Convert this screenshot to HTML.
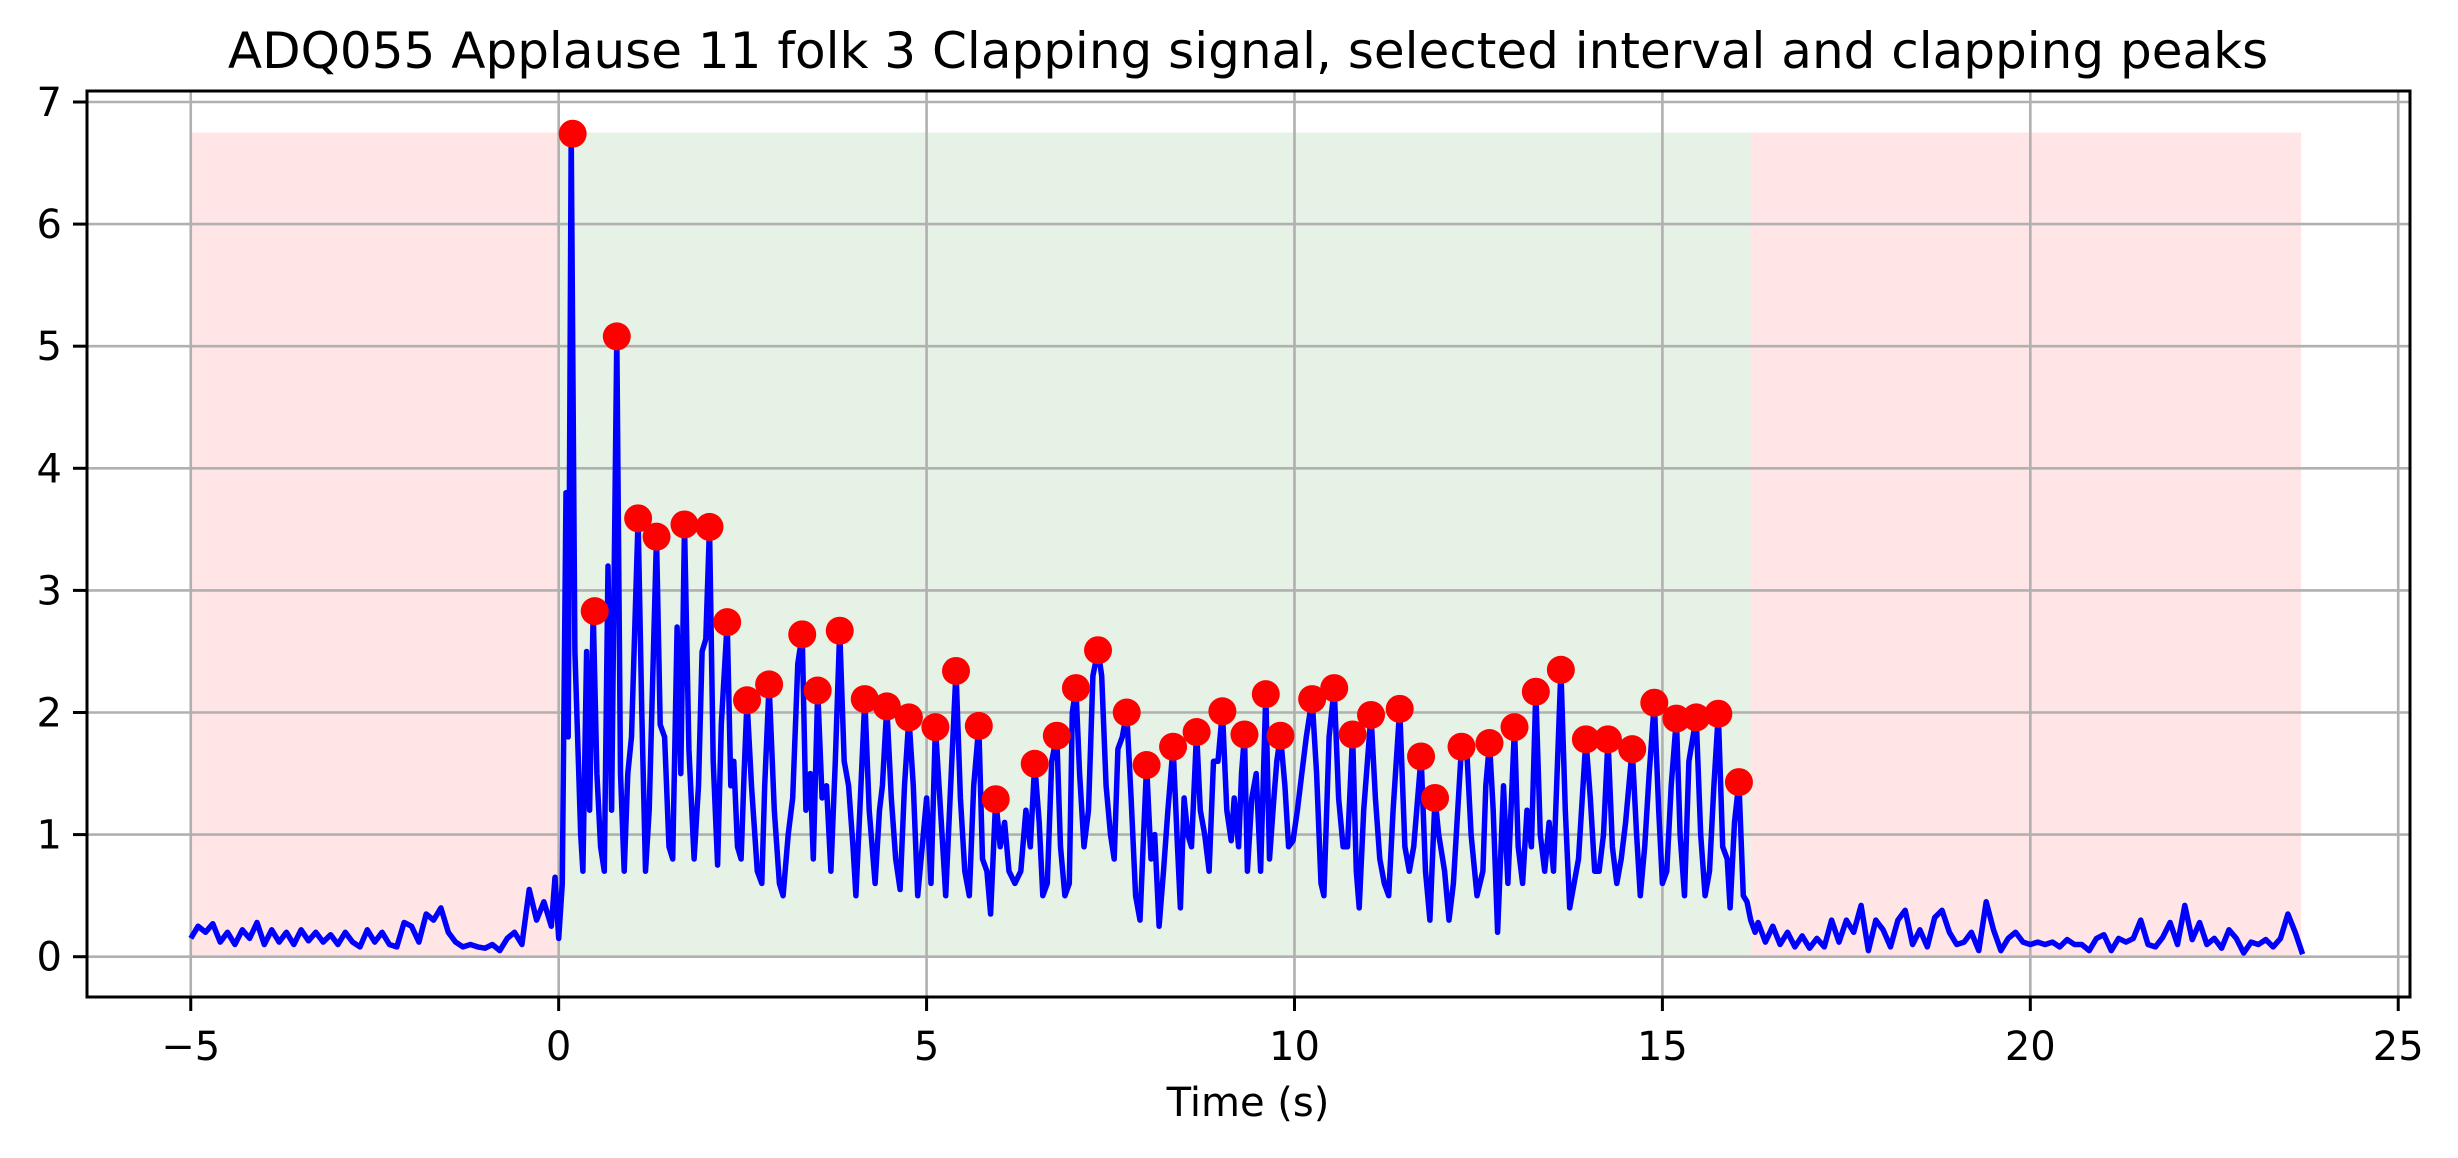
<!DOCTYPE html>
<html><head><meta charset="utf-8"><style>
html,body{margin:0;padding:0;background:#fff;}
svg{display:block;font-family:"DejaVu Sans","Liberation Sans",sans-serif;}
</style></head><body>
<svg id="chart" width="2458" height="1158" viewBox="0 0 2458 1158" xmlns="http://www.w3.org/2000/svg">
<rect width="2458" height="1158" fill="#fff"/>
<g id="spans"></g><g id="grid"></g><g id="series"></g><g id="peaks"></g><g id="axes"></g>
<text x="1248" y="68" font-size="50" text-anchor="middle">ADQ055 Applause 11 folk 3 Clapping signal, selected interval and clapping peaks</text>
<text x="1248" y="1116" font-size="40" text-anchor="middle">Time (s)</text>
</svg>
<script>
const xTicks = [-5, 0, 5, 10, 15, 20, 25];
const yTicks = [0, 1, 2, 3, 4, 5, 6, 7];
const spanStarts = [-5, 0, 16.2];
const spanEnds = [0, 16.2, 23.68];
const spanKinds = ['excluded', 'selected', 'excluded'];
const spanTop = 6.75;
const peakT = [0.19,0.49,0.79,1.08,1.33,1.71,2.05,2.29,2.56,2.86,3.31,3.52,3.82,4.16,4.46,4.76,5.12,5.40,5.71,5.94,6.47,6.77,7.03,7.33,7.72,7.99,8.35,8.67,9.02,9.32,9.61,9.81,10.24,10.54,10.79,11.04,11.43,11.72,11.91,12.27,12.65,12.99,13.28,13.62,13.96,14.26,14.59,14.89,15.19,15.46,15.76,16.04];
const peakV = [6.74,2.83,5.08,3.59,3.44,3.54,3.52,2.74,2.10,2.23,2.64,2.18,2.67,2.11,2.05,1.96,1.88,2.34,1.89,1.29,1.58,1.81,2.20,2.51,2.00,1.57,1.72,1.84,2.01,1.82,2.15,1.81,2.11,2.20,1.82,1.98,2.03,1.64,1.30,1.72,1.75,1.88,2.17,2.35,1.78,1.78,1.70,2.08,1.95,1.96,1.99,1.43];
const preV = [0.15,0.25,0.2,0.27,0.12,0.2,0.1,0.22,0.15,0.28,0.1,0.22,0.12,0.2,0.1,0.22,0.13,0.2,0.12,0.18,0.1,0.2,0.12,0.08,0.22,0.12,0.2,0.1,0.08,0.28,0.25,0.12,0.35,0.3,0.4,0.2,0.12,0.08,0.1,0.08,0.07,0.1,0.05,0.15,0.2,0.1,0.55,0.3,0.45,0.25];
const midT = [-0.05,0,0.05,0.1,0.13,0.17,0.22,0.3,0.33,0.38,0.42,0.47,0.52,0.57,0.62,0.67,0.72,0.79,0.84,0.89,0.94,0.99,1.08,1.13,1.18,1.23,1.33,1.38,1.44,1.5,1.55,1.61,1.66,1.71,1.77,1.84,1.9,1.95,2.0,2.05,2.1,2.16,2.21,2.29,2.34,2.38,2.43,2.48,2.52,2.56,2.62,2.7,2.76,2.8,2.86,2.93,3.0,3.05,3.12,3.18,3.25,3.31,3.36,3.42,3.46,3.52,3.58,3.64,3.7,3.76,3.82,3.88,3.94,4.0,4.04,4.1,4.16,4.22,4.3,4.36,4.4,4.46,4.52,4.58,4.64,4.7,4.76,4.82,4.88,4.94,5.0,5.06,5.12,5.2,5.26,5.32,5.4,5.46,5.52,5.58,5.64,5.71,5.76,5.82,5.87,5.94,6.0,6.06,6.12,6.2,6.28,6.35,6.41,6.47,6.53,6.58,6.64,6.7,6.77,6.82,6.88,6.94,6.98,7.03,7.08,7.14,7.2,7.26,7.33,7.38,7.44,7.5,7.55,7.6,7.66,7.72,7.78,7.84,7.9,7.95,7.99,8.05,8.1,8.16,8.22,8.28,8.35,8.41,8.45,8.5,8.55,8.6,8.67,8.72,8.78,8.84,8.9,8.96,9.02,9.08,9.14,9.18,9.24,9.28,9.32,9.36,9.42,9.48,9.54,9.61,9.66,9.72,9.76,9.81,9.87,9.92,9.98,10.04,10.1,10.16,10.24,10.3,10.36,10.4,10.47,10.54,10.6,10.66,10.72,10.79,10.84,10.88,10.94,11.04,11.1,11.16,11.22,11.28,11.34,11.43,11.5,11.56,11.62,11.72,11.78,11.84,11.91,11.96,12.04,12.1,12.16,12.27,12.34,12.4,12.48,12.56,12.6,12.65,12.7,12.76,12.84,12.9,12.99,13.04,13.1,13.16,13.22,13.28,13.34,13.4,13.46,13.52,13.62,13.68,13.74,13.8,13.86,13.96,14.02,14.08,14.14,14.2,14.26,14.32,14.38,14.44,14.5,14.59,14.65,14.7,14.76,14.82,14.89,14.95,15.0,15.06,15.12,15.19,15.24,15.3,15.36,15.46,15.52,15.58,15.64,15.7,15.76,15.82,15.88,15.92,15.98,16.04,16.1,16.15,16.2,16.26];
const midV = [0.65,0.15,0.6,3.8,1.8,6.74,2.5,1.0,0.7,2.5,1.2,2.83,1.5,0.9,0.7,3.2,1.2,5.08,1.5,0.7,1.5,1.8,3.59,2.0,0.7,1.2,3.44,1.9,1.8,0.9,0.8,2.7,1.5,3.54,1.7,0.8,1.4,2.5,2.6,3.52,1.6,0.75,1.9,2.74,1.4,1.6,0.9,0.8,1.5,2.10,1.4,0.7,0.6,1.4,2.23,1.2,0.6,0.5,1.0,1.3,2.4,2.64,1.2,1.5,0.8,2.18,1.3,1.4,0.7,1.6,2.67,1.6,1.4,0.9,0.5,1.3,2.11,1.2,0.6,1.2,1.4,2.05,1.3,0.8,0.55,1.4,1.96,1.4,0.5,0.9,1.3,0.6,1.88,1.1,0.5,1.3,2.34,1.3,0.7,0.5,1.4,1.89,0.8,0.7,0.35,1.29,0.9,1.1,0.7,0.6,0.7,1.2,0.9,1.58,1.1,0.5,0.6,1.6,1.81,0.9,0.5,0.6,2.0,2.20,1.5,0.9,1.2,2.3,2.51,2.3,1.4,1.0,0.8,1.7,1.8,2.00,1.3,0.5,0.3,1.0,1.57,0.8,1.0,0.25,0.7,1.2,1.72,0.9,0.4,1.3,1.0,0.9,1.84,1.2,1.0,0.7,1.6,1.6,2.01,1.2,0.95,1.3,0.9,1.5,1.82,0.7,1.3,1.5,0.7,2.15,0.8,1.3,1.6,1.81,1.4,0.9,0.95,1.2,1.5,1.8,2.11,1.5,0.6,0.5,1.8,2.20,1.3,0.9,0.9,1.82,0.7,0.4,1.2,1.98,1.3,0.8,0.6,0.5,1.2,2.03,0.9,0.7,0.9,1.64,0.7,0.3,1.30,1.0,0.7,0.3,0.6,1.72,1.7,1.0,0.5,0.7,1.4,1.75,1.2,0.2,1.4,0.6,1.88,0.9,0.6,1.2,0.9,2.17,1.0,0.7,1.1,0.7,2.35,1.2,0.4,0.6,0.8,1.78,1.3,0.7,0.7,1.0,1.78,0.9,0.6,0.8,1.1,1.70,1.0,0.5,0.9,1.5,2.08,1.2,0.6,0.7,1.4,1.95,1.0,0.5,1.6,1.96,1.0,0.5,0.7,1.4,1.99,0.9,0.8,0.4,1.1,1.43,0.5,0.45,0.3,0.2];
const postV = [0.28,0.12,0.25,0.1,0.2,0.08,0.17,0.07,0.15,0.08,0.3,0.12,0.3,0.2,0.42,0.05,0.3,0.22,0.08,0.3,0.38,0.1,0.22,0.08,0.32,0.38,0.2,0.1,0.12,0.2,0.05,0.45,0.22,0.05,0.15,0.2,0.12,0.1,0.12,0.1,0.12,0.08,0.14,0.1,0.1,0.05,0.15,0.18,0.05,0.15,0.12,0.15,0.3,0.1,0.08,0.16,0.28,0.1,0.42,0.14,0.28,0.1,0.15,0.07,0.22,0.15,0.03,0.12,0.1,0.14,0.08,0.15,0.35,0.2,0.02];

const X0 = 87, X1 = 2410, Y0 = 91, Y1 = 997;
const tMin = -6.41, tMax = 25.16, vMin = -0.33, vMax = 7.09;
function sx(t){ return X0 + (t - tMin) / (tMax - tMin) * (X1 - X0); }
function sy(v){ return Y1 - (v - vMin) / (vMax - vMin) * (Y1 - Y0); }
const NS = 'http://www.w3.org/2000/svg';
function mk(tag, attrs, parent){ const e = document.createElementNS(NS, tag); for (const k in attrs) e.setAttribute(k, attrs[k]); parent.appendChild(e); return e; }

const spans = document.getElementById('spans');
for (let i = 0; i < spanStarts.length; i++) {
  const r = mk('rect', {x: sx(spanStarts[i]), y: sy(spanTop), width: sx(spanEnds[i]) - sx(spanStarts[i]), height: sy(0) - sy(spanTop), fill: spanKinds[i] === 'selected' ? '#e5f2e5' : '#ffe5e5'}, spans);
  
  
}
const grid = document.getElementById('grid');
xTicks.forEach(t => {
  const l = mk('line', {x1: sx(t), x2: sx(t), y1: Y0, y2: Y1, stroke: '#b0b0b0', 'stroke-width': 2.6}, grid);
  
  
});
yTicks.forEach(v => {
  const l = mk('line', {x1: X0, x2: X1, y1: sy(v), y2: sy(v), stroke: '#b0b0b0', 'stroke-width': 2.6}, grid);
  
  
});

const pts = [];
preV.forEach((v, i) => pts.push([-5 + i * 0.1, v]));
midT.forEach((t, i) => pts.push([t, midV[i]]));
postV.forEach((v, i) => pts.push([16.3 + i * 0.1, v]));
const series = document.getElementById('series');
const path = mk('path', {d: pts.map((p, i) => (i ? 'L' : 'M') + sx(p[0]).toFixed(1) + ',' + sy(p[1]).toFixed(1)).join(''), fill: 'none', stroke: '#0000ff', 'stroke-width': 5.5, 'stroke-linejoin': 'round'}, series);



const peaks = document.getElementById('peaks');
peakT.forEach((t, i) => {
  const c = mk('circle', {cx: sx(t), cy: sy(peakV[i]), r: 14, fill: '#ff0000'}, peaks);
  
  
});

const axes = document.getElementById('axes');
const frame = mk('rect', {x: X0, y: Y0, width: X1 - X0, height: Y1 - Y0, fill: 'none', stroke: '#000', 'stroke-width': 3}, axes);


xTicks.forEach(t => {
  mk('line', {x1: sx(t), x2: sx(t), y1: Y1, y2: Y1 + 14, stroke: '#000', 'stroke-width': 3}, axes);
  const tx = mk('text', {x: sx(t), y: 1060, 'font-size': 40, 'text-anchor': 'middle'}, axes);
  tx.textContent = (t < 0 ? '\u2212' + (-t) : String(t));
  
  
});
yTicks.forEach(v => {
  mk('line', {x1: X0 - 14, x2: X0, y1: sy(v), y2: sy(v), stroke: '#000', 'stroke-width': 3}, axes);
  const tx = mk('text', {x: 62, y: sy(v) + 14, 'font-size': 40, 'text-anchor': 'end'}, axes);
  tx.textContent = String(v);
  
  
});
</script>
</body></html>
